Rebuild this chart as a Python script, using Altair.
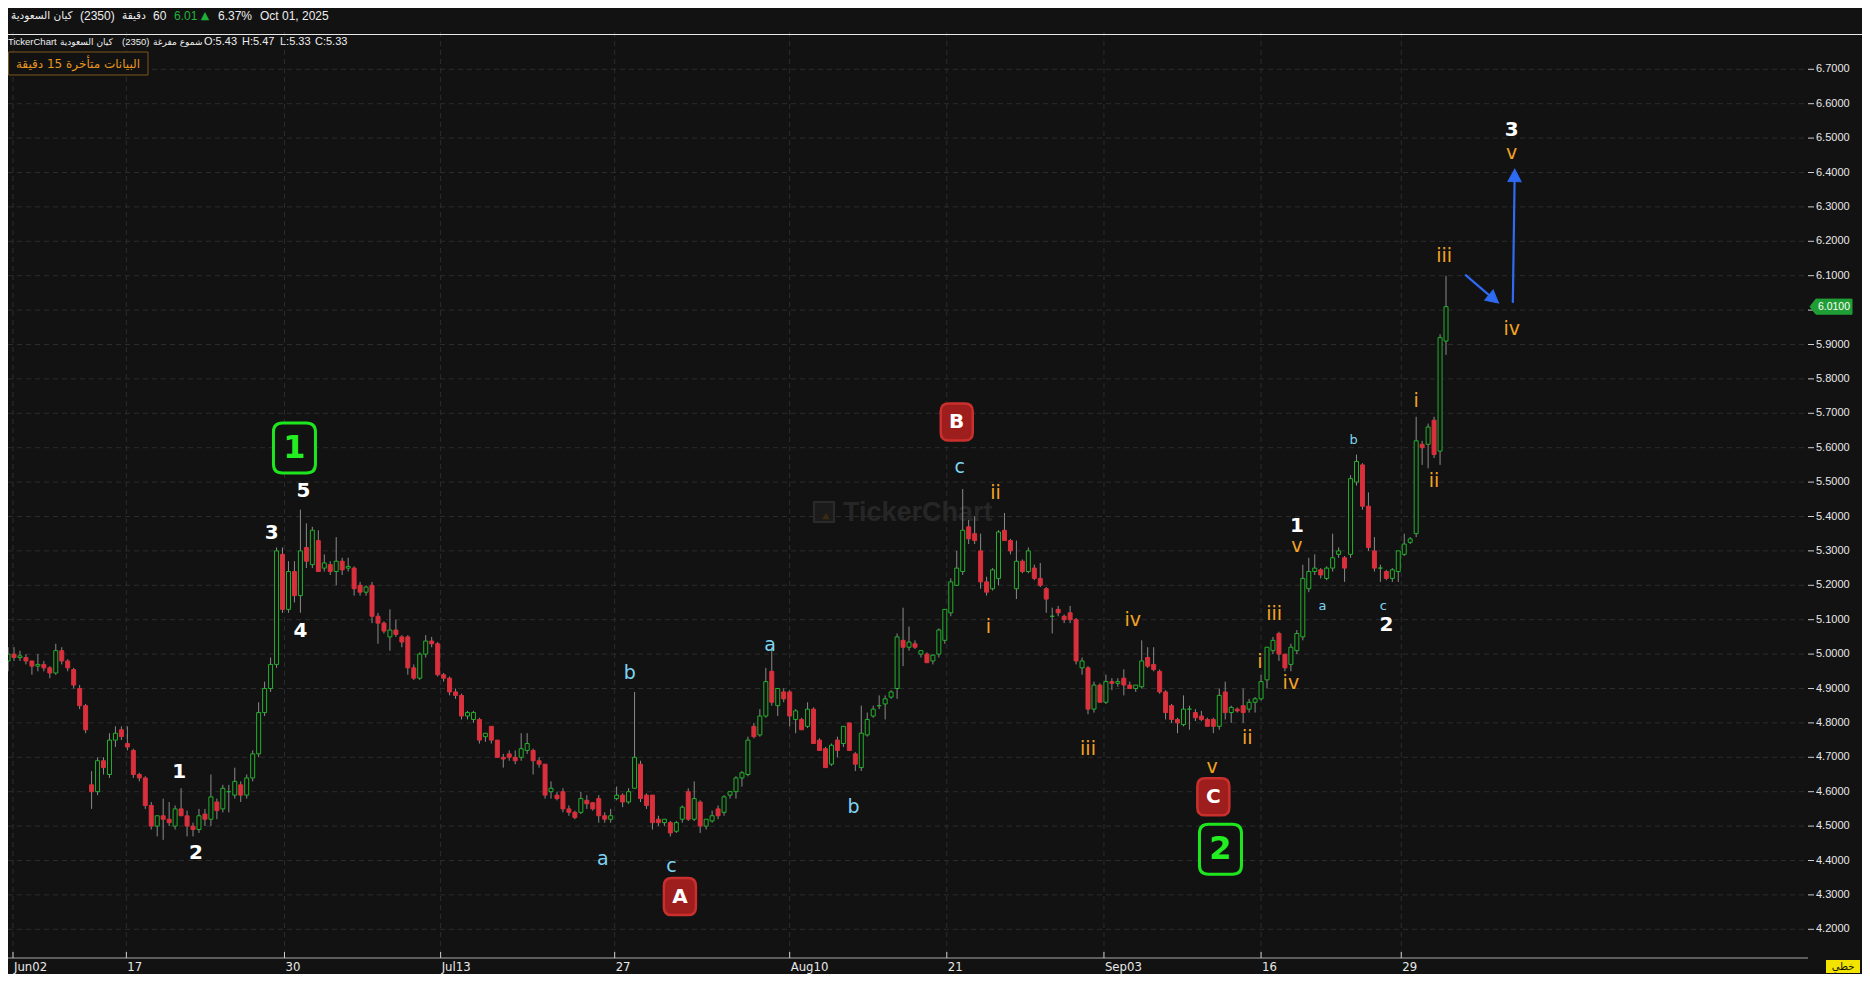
import altair as alt
import pandas as pd

# ---------------- data ----------------
opens = [
    4.98, 5.00, 4.99, 4.99, 4.98, 4.965, 4.97, 4.96, 4.945, 5.01,
    4.98, 4.955, 4.90, 4.85, 4.62, 4.60, 4.69, 4.65, 4.75, 4.78,
    4.74, 4.72, 4.65, 4.64, 4.56, 4.50, 4.53, 4.52, 4.50, 4.55,
    4.53, 4.50, 4.49, 4.535, 4.52, 4.57, 4.55, 4.60, 4.59, 4.62,
    4.59, 4.64, 4.71, 4.83, 4.90, 4.97, 5.29, 5.13, 5.24, 5.17,
    5.31, 5.26, 5.33, 5.25, 5.26, 5.24, 5.27, 5.25, 5.25, 5.20,
    5.18, 5.20, 5.11, 5.09, 5.05, 5.07, 5.05, 5.05, 4.96, 4.93,
    5.00, 5.038, 5.03, 4.94, 4.93, 4.89, 4.88, 4.82, 4.81, 4.81,
    4.76, 4.79, 4.75, 4.70, 4.71, 4.70, 4.70, 4.72, 4.72, 4.69,
    4.68, 4.60, 4.59, 4.60, 4.55, 4.54, 4.54, 4.575, 4.568, 4.58,
    4.53, 4.52, 4.58, 4.59, 4.57, 4.61, 4.68, 4.59, 4.59, 4.52,
    4.51, 4.51, 4.485, 4.52, 4.60, 4.52, 4.57, 4.50, 4.515, 4.55,
    4.54, 4.59, 4.60, 4.64, 4.65, 4.79, 4.765, 4.82, 4.95, 4.85,
    4.89, 4.89, 4.81, 4.81, 4.79, 4.84, 4.75, 4.725, 4.68, 4.75,
    4.74, 4.80, 4.71, 4.67, 4.765, 4.82, 4.85, 4.855, 4.875, 4.90,
    5.04, 5.02, 5.03, 5.00, 5.00, 4.98, 5.00, 5.04, 5.12, 5.20,
    5.24, 5.37, 5.35, 5.30, 5.21, 5.19, 5.22, 5.36, 5.33, 5.19,
    5.27, 5.24, 5.25, 5.22, 5.19, 5.11, 5.13, 5.11, 5.12, 5.10,
    4.96, 4.96, 4.84, 4.91, 4.86, 4.92, 4.915, 4.93, 4.91, 4.90,
    4.905, 4.99, 4.97, 4.95, 4.89, 4.85, 4.81, 4.795, 4.84, 4.83,
    4.82, 4.81, 4.81, 4.79, 4.89, 4.83, 4.84, 4.85, 4.84, 4.86,
    4.87, 4.925, 5.01, 5.06, 5.00, 4.97, 5.01, 5.05, 5.19, 5.24,
    5.245, 5.22, 5.25, 5.29, 5.28, 5.29, 5.50, 5.55, 5.43, 5.30,
    5.25, 5.24, 5.22, 5.24, 5.29, 5.325, 5.35, 5.61, 5.61, 5.68,
    5.59, 5.91,
]
highs = [
    5.02, 5.02, 5.01, 5.00, 4.98, 5.00, 4.98, 4.965, 5.03, 5.02,
    4.985, 4.96, 4.91, 4.855, 4.66, 4.70, 4.70, 4.77, 4.79, 4.79,
    4.79, 4.725, 4.655, 4.645, 4.57, 4.53, 4.58, 4.57, 4.56, 4.61,
    4.545, 4.51, 4.55, 4.55, 4.65, 4.58, 4.62, 4.62, 4.67, 4.63,
    4.65, 4.72, 4.86, 4.92, 4.99, 5.31, 5.31, 5.27, 5.27, 5.42,
    5.38, 5.37, 5.36, 5.29, 5.27, 5.34, 5.28, 5.28, 5.255, 5.21,
    5.20, 5.21, 5.12, 5.095, 5.13, 5.10, 5.055, 5.055, 4.97, 5.005,
    5.055, 5.05, 5.035, 4.945, 4.935, 4.90, 4.885, 4.835, 4.835, 4.815,
    4.77, 4.79, 4.75, 4.71, 4.72, 4.72, 4.77, 4.77, 4.725, 4.70,
    4.68, 4.63, 4.60, 4.61, 4.56, 4.545, 4.60, 4.59, 4.57, 4.59,
    4.54, 4.55, 4.615, 4.595, 4.61, 4.89, 4.69, 4.595, 4.59, 4.53,
    4.52, 4.515, 4.515, 4.56, 4.61, 4.63, 4.575, 4.52, 4.545, 4.56,
    4.59, 4.60, 4.645, 4.66, 4.76, 4.80, 4.84, 4.96, 5.02, 4.90,
    4.90, 4.895, 4.84, 4.815, 4.86, 4.845, 4.755, 4.73, 4.74, 4.76,
    4.79, 4.80, 4.715, 4.85, 4.83, 4.85, 4.88, 4.88, 4.895, 5.06,
    5.135, 5.08, 5.04, 5.01, 5.005, 5.00, 5.075, 5.13, 5.22, 5.30,
    5.48, 5.39, 5.40, 5.35, 5.225, 5.25, 5.36, 5.41, 5.335, 5.33,
    5.275, 5.31, 5.26, 5.265, 5.195, 5.135, 5.14, 5.115, 5.14, 5.105,
    4.99, 4.965, 4.92, 4.915, 4.94, 4.93, 4.93, 4.956, 4.92, 4.91,
    5.04, 5.02, 5.02, 4.955, 4.895, 4.855, 4.815, 4.88, 4.85, 4.84,
    4.835, 4.815, 4.815, 4.90, 4.92, 4.85, 4.845, 4.90, 4.87, 4.875,
    4.94, 5.02, 5.05, 5.065, 5.00, 5.03, 5.07, 5.26, 5.28, 5.29,
    5.25, 5.255, 5.35, 5.31, 5.285, 5.52, 5.58, 5.555, 5.47, 5.34,
    5.26, 5.245, 5.25, 5.30, 5.35, 5.34, 5.69, 5.62, 5.67, 5.69,
    5.93, 6.10,
]
lows = [
    4.95, 4.98, 4.98, 4.97, 4.94, 4.95, 4.95, 4.93, 4.94, 4.97,
    4.95, 4.90, 4.84, 4.77, 4.55, 4.59, 4.65, 4.64, 4.73, 4.75,
    4.72, 4.64, 4.63, 4.55, 4.49, 4.47, 4.46, 4.50, 4.49, 4.53,
    4.47, 4.47, 4.48, 4.50, 4.50, 4.52, 4.54, 4.54, 4.58, 4.57,
    4.58, 4.63, 4.70, 4.82, 4.89, 4.96, 5.12, 5.12, 5.15, 5.12,
    5.25, 5.25, 5.24, 5.24, 5.23, 5.20, 5.23, 5.24, 5.17, 5.17,
    5.17, 5.09, 5.03, 5.06, 5.01, 5.05, 5.02, 4.94, 4.925, 4.925,
    4.99, 5.02, 4.935, 4.92, 4.88, 4.87, 4.81, 4.81, 4.80, 4.74,
    4.745, 4.74, 4.70, 4.67, 4.69, 4.68, 4.69, 4.71, 4.65, 4.67,
    4.58, 4.58, 4.575, 4.54, 4.53, 4.52, 4.535, 4.55, 4.545, 4.51,
    4.51, 4.51, 4.575, 4.555, 4.565, 4.61, 4.57, 4.55, 4.49, 4.50,
    4.50, 4.47, 4.48, 4.51, 4.515, 4.515, 4.48, 4.49, 4.51, 4.52,
    4.53, 4.58, 4.58, 4.615, 4.645, 4.755, 4.76, 4.815, 4.85, 4.82,
    4.86, 4.79, 4.77, 4.78, 4.785, 4.74, 4.72, 4.67, 4.675, 4.70,
    4.73, 4.72, 4.66, 4.66, 4.76, 4.815, 4.84, 4.81, 4.87, 4.87,
    4.965, 5.01, 5.015, 4.99, 4.975, 4.97, 4.99, 5.03, 5.11, 5.20,
    5.23, 5.32, 5.32, 5.19, 5.17, 5.185, 5.20, 5.33, 5.29, 5.16,
    5.235, 5.235, 5.215, 5.195, 5.12, 5.06, 5.11, 5.09, 5.09, 4.97,
    4.94, 4.825, 4.83, 4.86, 4.855, 4.895, 4.905, 4.88, 4.90, 4.89,
    4.90, 4.96, 4.95, 4.885, 4.81, 4.80, 4.77, 4.79, 4.78, 4.805,
    4.805, 4.79, 4.77, 4.78, 4.81, 4.80, 4.83, 4.80, 4.83, 4.83,
    4.865, 4.90, 5.00, 4.98, 4.95, 4.95, 5.00, 5.04, 5.18, 5.23,
    5.22, 5.215, 5.24, 5.28, 5.21, 5.28, 5.49, 5.42, 5.30, 5.24,
    5.21, 5.215, 5.21, 5.21, 5.285, 5.32, 5.34, 5.55, 5.54, 5.57,
    5.55, 5.87,
]
closes = [
    5.00, 4.99, 4.995, 4.98, 4.965, 4.97, 4.96, 4.945, 5.01, 4.98,
    4.96, 4.91, 4.85, 4.78, 4.60, 4.69, 4.67, 4.75, 4.77, 4.76,
    4.73, 4.65, 4.64, 4.56, 4.50, 4.53, 4.52, 4.51, 4.55, 4.53,
    4.50, 4.49, 4.53, 4.52, 4.585, 4.545, 4.61, 4.60, 4.63, 4.59,
    4.64, 4.71, 4.83, 4.90, 4.97, 5.30, 5.13, 5.24, 5.17, 5.30,
    5.27, 5.36, 5.24, 5.265, 5.24, 5.27, 5.245, 5.255, 5.19, 5.18,
    5.195, 5.11, 5.09, 5.067, 5.07, 5.057, 5.035, 4.96, 4.93, 5.00,
    5.038, 5.03, 4.94, 4.93, 4.89, 4.88, 4.82, 4.83, 4.83, 4.75,
    4.77, 4.75, 4.70, 4.695, 4.70, 4.69, 4.725, 4.74, 4.69, 4.68,
    4.59, 4.61, 4.58, 4.55, 4.54, 4.525, 4.58, 4.565, 4.55, 4.53,
    4.52, 4.53, 4.59, 4.57, 4.60, 4.70, 4.58, 4.56, 4.51, 4.51,
    4.52, 4.48, 4.51, 4.555, 4.52, 4.58, 4.50, 4.52, 4.53, 4.53,
    4.585, 4.60, 4.64, 4.655, 4.75, 4.76, 4.82, 4.92, 4.86, 4.90,
    4.87, 4.82, 4.835, 4.78, 4.84, 4.74, 4.72, 4.67, 4.735, 4.72,
    4.79, 4.72, 4.68, 4.77, 4.81, 4.84, 4.85, 4.87, 4.89, 5.05,
    5.02, 5.035, 5.02, 5.01, 4.975, 4.997, 5.07, 5.13, 5.21, 5.25,
    5.36, 5.335, 5.33, 5.21, 5.18, 5.245, 5.355, 5.33, 5.30, 5.27,
    5.24, 5.30, 5.22, 5.20, 5.16, 5.11, 5.12, 5.10, 5.10, 4.98,
    4.98, 4.84, 4.91, 4.86, 4.92, 4.915, 4.92, 4.91, 4.90, 4.91,
    4.98, 4.965, 4.955, 4.89, 4.83, 4.81, 4.80, 4.84, 4.84, 4.815,
    4.81, 4.79, 4.79, 4.88, 4.83, 4.845, 4.835, 4.83, 4.86, 4.87,
    4.92, 5.02, 5.04, 5.00, 4.96, 5.02, 5.06, 5.22, 5.24, 5.25,
    5.23, 5.25, 5.28, 5.30, 5.25, 5.51, 5.56, 5.43, 5.31, 5.25,
    5.25, 5.22, 5.245, 5.30, 5.32, 5.335, 5.62, 5.60, 5.66, 5.58,
    5.92, 6.01,
]
bar_idx = list(range(len(closes)))

date_labels = ["Jun02", "17", "30", "Jul13", "27", "Aug10", "21", "Sep03", "16", "29"]
date_pos = [0.83, 19.83, 46.33, 72.5, 101.67, 131.0, 157.33, 183.67, 210.0, 233.5]

price_ticks = [4.2, 4.3, 4.4, 4.5, 4.6, 4.7, 4.8, 4.9, 5.0, 5.1, 5.2, 5.3, 5.4,
               5.5, 5.6, 5.7, 5.8, 5.9, 6.0, 6.1, 6.2, 6.3, 6.4, 6.5, 6.6, 6.7]

# Elliott wave labels: text, bar position, price level, style
wave_text = ["1", "2", "3", "4", "5", "1", "2", "3",
             "b", "a", "c", "a", "b", "c",
             "a", "b", "c",
             "ii", "i", "iii", "iv", "v", "i", "ii", "iii", "iv", "v",
             "i", "ii", "iii", "iv", "v"]
wave_idx = [28.7, 31.5, 44.2, 49.0, 49.5, 216.0, 231.0, 252.0,
            104.2, 99.7, 111.2, 127.7, 141.7, 159.5,
            220.3, 225.5, 230.5,
            165.5, 164.3, 181.0, 188.5, 201.8, 209.8, 207.7, 212.2, 215.0, 216.0,
            236.0, 239.0, 240.7, 252.0, 252.0]
wave_price = [4.657, 4.422, 5.352, 5.067, 5.474, 5.373, 5.085, 6.524,
              4.945, 4.404, 4.384, 5.026, 4.556, 5.544,
              5.14, 5.622, 5.14,
              5.468, 5.079, 4.724, 5.099, 4.672, 4.977, 4.756, 5.117, 4.917, 5.314,
              5.736, 5.503, 6.157, 5.945, 6.457]
wave_style = ["white"] * 8 + ["cyan"] * 6 + ["cyan_small"] * 3 + ["orange"] * 15

box_text = ["A", "B", "C", "1", "2"]
box_idx = [112.6, 159.0, 202.0, 48.0, 203.2]
box_price = [4.295, 5.675, 4.585, 5.599, 4.433]
box_style = ["red", "red", "red", "green", "green"]

arrow_from_idx = [244.2, 252.2]
arrow_from_price = [6.103, 6.021]
arrow_to_idx = [248.8, 252.5]
arrow_to_price = [6.035, 6.387]
arrow_angle = [129.5, 0.9]

last_price = [6.01]
last_label = ["6.0100"]

# ---------------- style / layout ----------------
BG = "#121212"
GREEN = "#22b12c"
RED = "#d8303c"
WICK = "#8a8a8a"
GRID = "#2c2c2c"
BLUE = "#2e6bf2"
ORANGE = "#f3a224"
CYAN = "#7fd5f3"
FONT = "Liberation Sans, DejaVu Sans, sans-serif"
LFONT = "DejaVu Sans, Liberation Sans, sans-serif"

W, H = 1800, 926
X0 = 0.83
X1 = X0 + W / 6.0
Y1 = 6.7 + (69.3 - 32.0) / 344.0
Y0 = Y1 - H / 344.0

xs = alt.Scale(domain=[X0, X1], nice=False, zero=False)
ys = alt.Scale(domain=[Y0, Y1], nice=False, zero=False)


def X(f):
    return alt.X(f, type="quantitative", scale=xs, axis=None)


def Y(f):
    return alt.Y(f, type="quantitative", scale=ys, axis=None)


candles = pd.DataFrame({"i": bar_idx, "o": opens, "h": highs, "l": lows, "c": closes})
one = pd.DataFrame({"k": [0]})


def ptext(s, x, y, color="#ededed", size=12, align="left", weight="normal", font=FONT):
    return alt.Chart(one).mark_text(
        text=s, color=color, fontSize=size, align=align, baseline="middle",
        fontWeight=weight, font=font,
    ).encode(x=alt.value(x), y=alt.value(y))


def rrect(w, h, r):
    return (f"M{-w + r},{-h} L{w - r},{-h} Q{w},{-h} {w},{-h + r} L{w},{h - r} Q{w},{h} {w - r},{h} "
            f"L{-w + r},{h} Q{-w},{h} {-w},{h - r} L{-w},{-h + r} Q{-w},{-h} {-w + r},{-h} Z")


layers = []

# horizontal price grid, right-hand ticks and price labels
pt = pd.DataFrame({"p": price_ticks})
pt["lab"] = [f"{v:.4f}" for v in price_ticks]
layers.append(alt.Chart(pt).mark_rule(color=GRID, strokeDash=[5, 4], strokeWidth=1)
              .encode(y=Y("p"), x=alt.value(0), x2=alt.value(W)))
layers.append(alt.Chart(pt).mark_rule(color="#cfcfcf", strokeWidth=1)
              .encode(y=Y("p"), x=alt.value(W), x2=alt.value(W + 6)))
layers.append(alt.Chart(pt[pt.p != 6.0]).mark_text(align="left", baseline="middle", color="#e8e8e8",
                                                   font=FONT, fontSize=11)
              .encode(y=Y("p"), x=alt.value(W + 8), text="lab:N"))

# watermark
layers.append(alt.Chart(one).mark_point(shape="square", size=400, filled=True, fill="#1b1b1b",
                                        stroke="#2a2a2a", strokeWidth=2, opacity=1)
              .encode(x=alt.value(816), y=alt.value(480)))
layers.append(alt.Chart(one).mark_point(shape="triangle-up", size=60, filled=True, fill="#3a2a12",
                                        opacity=1).encode(x=alt.value(818), y=alt.value(484)))
layers.append(ptext("TickerChart", 835, 481, color="#262626", size=27, weight="bold"))

# vertical date grid
dates = pd.DataFrame({"t": date_pos, "lab": date_labels})
layers.append(alt.Chart(dates).mark_rule(color=GRID, strokeDash=[5, 4], strokeWidth=1)
              .encode(x=X("t"), y=alt.value(0), y2=alt.value(H)))

# candles
base = alt.Chart(candles)
layers.append(base.mark_rule(color=WICK, strokeWidth=1, clip=True)
              .encode(x=X("i"), y=Y("l"), y2="h:Q"))
up = "datum.c >= datum.o"
layers.append(base.mark_bar(size=4, strokeWidth=1, clip=True).encode(
    x=X("i"), y=Y("o"), y2="c:Q",
    fill=alt.condition(up, alt.value(BG), alt.value(RED)),
    stroke=alt.condition(up, alt.value(GREEN), alt.value(RED)),
))

# x axis line, ticks and labels
layers.append(alt.Chart(one).mark_rule(color="#a8a8a8", strokeWidth=1)
              .encode(x=alt.value(0), x2=alt.value(W), y=alt.value(H)))
layers.append(alt.Chart(dates).mark_rule(color="#cfcfcf", strokeWidth=1)
              .encode(x=X("t"), y=alt.value(H - 6), y2=alt.value(H)))
layers.append(alt.Chart(dates).mark_text(align="left", baseline="top", dx=1, dy=3, color="#e8e8e8",
                                         font="Liberation Sans Narrow, DejaVu Sans Condensed, Liberation Sans",
                                         fontSize=13)
              .encode(x=X("t"), y=alt.value(H), text="lab:N"))

# wave labels
waves = pd.DataFrame({"t": wave_text, "i": wave_idx, "p": wave_price, "s": wave_style})
wave_fmt = {
    "white": dict(color="#ffffff", fontSize=20, fontWeight="bold"),
    "cyan": dict(color=CYAN, fontSize=19, fontWeight="normal"),
    "cyan_small": dict(color=CYAN, fontSize=13, fontWeight="normal"),
    "orange": dict(color=ORANGE, fontSize=19, fontWeight="normal"),
}
for sname, fmt in wave_fmt.items():
    layers.append(alt.Chart(waves[waves.s == sname]).mark_text(
        align="center", baseline="middle", font=LFONT, **fmt)
        .encode(x=X("i"), y=Y("p"), text="t:N"))

# boxed labels
boxes = pd.DataFrame({"t": box_text, "i": box_idx, "p": box_price, "s": box_style})
red_boxes = boxes[boxes.s == "red"]
green_boxes = boxes[boxes.s == "green"]
layers.append(alt.Chart(red_boxes).mark_point(
    shape=rrect(0.865, 1, 0.43), size=1369, filled=True, fill="#9e1d1d",
    stroke="#c9302d", strokeWidth=2.5, opacity=1).encode(x=X("i"), y=Y("p")))
layers.append(alt.Chart(red_boxes).mark_text(
    align="center", baseline="middle", font=LFONT, fontSize=20, fontWeight="bold", color="#ffffff")
    .encode(x=X("i"), y=Y("p"), text="t:N"))
layers.append(alt.Chart(green_boxes).mark_point(
    shape=rrect(0.84, 1, 0.36), size=2500, filled=True, fill=BG,
    stroke="#1ee61e", strokeWidth=3, opacity=1).encode(x=X("i"), y=Y("p")))
layers.append(alt.Chart(green_boxes).mark_text(
    align="center", baseline="middle", font=LFONT, fontSize=32, fontWeight="bold", color="#22ee22")
    .encode(x=X("i"), y=Y("p"), text="t:N"))

# arrows
arrows = pd.DataFrame({"x0": arrow_from_idx, "y0": arrow_from_price,
                       "x1": arrow_to_idx, "y1": arrow_to_price, "ang": arrow_angle})
layers.append(alt.Chart(arrows).mark_rule(color=BLUE, strokeWidth=2.2)
              .encode(x=X("x0"), y=Y("y0"), x2="x1:Q", y2="y1:Q"))
layers.append(alt.Chart(arrows).mark_point(
    shape="M0,-1 L0.85,0.6 L-0.85,0.6 Z", size=243, filled=True, fill=BLUE, stroke=BLUE,
    strokeWidth=1, opacity=1)
    .encode(x=X("x1"), y=Y("y1"), angle=alt.Angle("ang:Q", scale=None)))

# header
layers.append(alt.Chart(one).mark_rule(color="#e8e8e8", strokeWidth=1)
              .encode(x=alt.value(0), x2=alt.value(W + 54), y=alt.value(2.5)))
HY = -16
layers.append(ptext("كيان السعودية", 3, HY, size=10.5, font=LFONT))
layers.append(ptext("(2350)", 72, HY, size=12))
layers.append(ptext("دقيقة", 114, HY, size=10.5, font=LFONT))
layers.append(ptext("60", 145, HY, size=12))
layers.append(ptext("6.01", 166, HY, color="#22b33a", size=12))
layers.append(ptext("▲", 197, HY, color="#1fae3a", size=11, align="center", font="DejaVu Sans"))
layers.append(ptext("6.37%", 210, HY, size=12))
layers.append(ptext("Oct 01, 2025", 252, HY, size=12))

# info line
IY = 9.5
layers.append(ptext("TickerChart", 0, IY, size=9.5))
layers.append(ptext("كيان السعودية", 52, IY, size=9, font=LFONT))
layers.append(ptext("(2350)", 114, IY, size=9.5))
layers.append(ptext("شموع مفرغة", 145, IY, size=9, font=LFONT))
layers.append(ptext("O:5.43", 196, IY, size=11))
layers.append(ptext("H:5.47", 234, IY, size=11))
layers.append(ptext("L:5.33", 272, IY, size=11))
layers.append(ptext("C:5.33", 307, IY, size=11))

# delayed-data box
layers.append(alt.Chart(one).mark_rect(fill=BG, stroke="#7d5519", strokeWidth=1)
              .encode(x=alt.value(0.5), x2=alt.value(140), y=alt.value(20), y2=alt.value(43)))
layers.append(ptext("البيانات متأخرة 15 دقيقة", 70, 31.5, color="#e8951f", size=12,
                    align="center", font=LFONT))

# last price tag
tag = pd.DataFrame({"p": last_price, "t": last_label})
layers.append(alt.Chart(tag).mark_point(
    shape="M-1,0 L-0.72,-0.36 L1,-0.36 L1,0.36 L-0.72,0.36 Z", size=1764, filled=True,
    fill="#1f9e35", stroke="#1f9e35", strokeWidth=1, opacity=1)
    .encode(x=alt.value(W + 23), y=Y("p")))
layers.append(alt.Chart(tag).mark_text(align="center", baseline="middle", color="#ffffff",
                                       font=FONT, fontSize=10.5)
              .encode(x=alt.value(W + 26), y=Y("p"), text="t:N"))

# chart-type badge
layers.append(alt.Chart(one).mark_rect(fill="#f2e400")
              .encode(x=alt.value(W + 18), x2=alt.value(W + 52), y=alt.value(H + 2), y2=alt.value(H + 15)))
layers.append(ptext("خطي", W + 35, H + 8.5, color="#111111", size=10, align="center", font=LFONT))

chart = alt.layer(*layers).properties(
    width=W, height=H,
    autosize=alt.AutoSizeParams(type="none"),
    padding={"left": 0, "top": 24, "right": 54, "bottom": 16},
    background=BG,
).configure_view(stroke=None, fill=BG)

chart.save("out.html", embed_options={"renderer": "svg", "actions": False})
